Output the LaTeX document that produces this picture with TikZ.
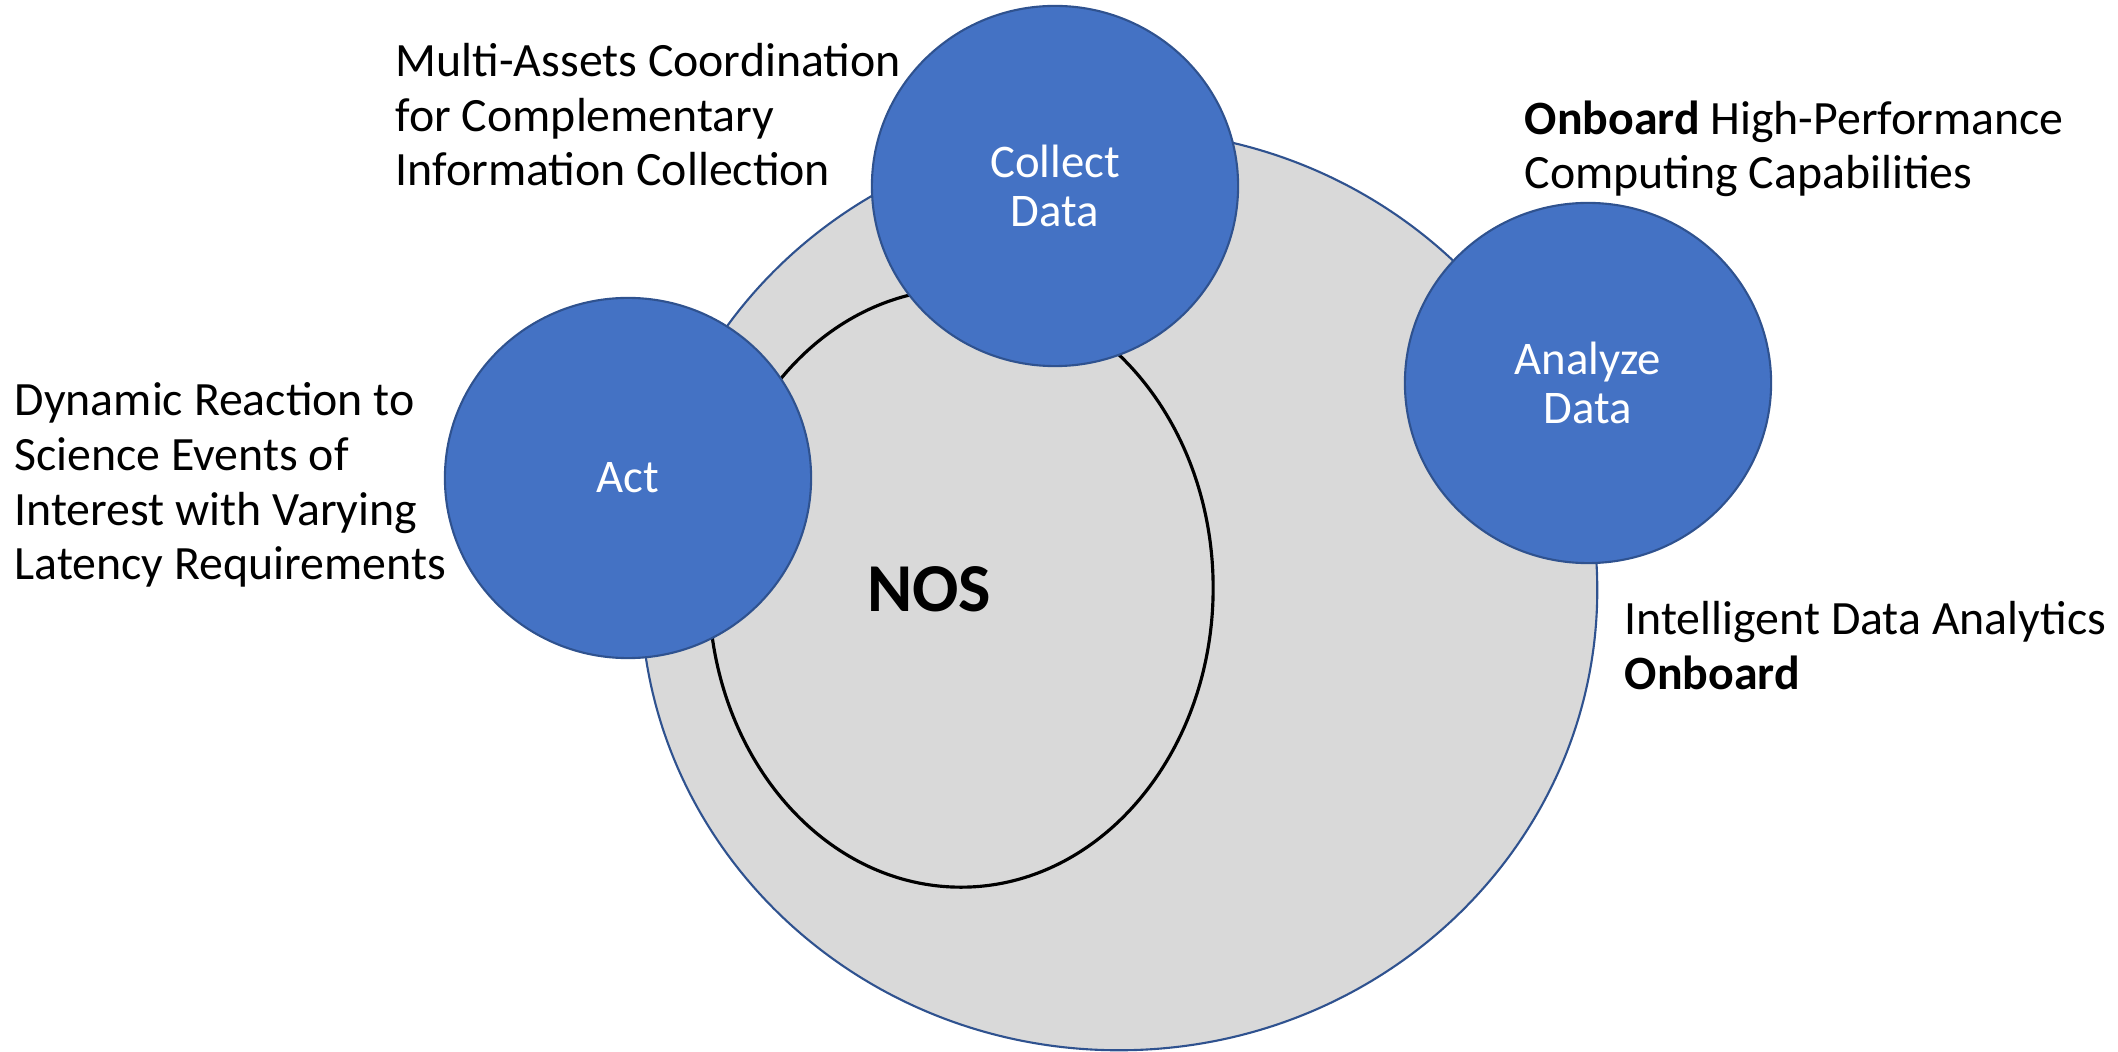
\documentclass[tikz,border=0pt]{standalone}
\usepackage{fontspec}
\setmainfont{Carlito}
\usetikzlibrary{shapes.geometric}
\definecolor{nosblue}{HTML}{4472C4}
\definecolor{nosedge}{HTML}{2F528F}
\definecolor{nosgrey}{HTML}{D9D9D9}

\begin{document}
\begin{tikzpicture}[x=0.01cm,y=-0.01cm,
  task/.style={ellipse,fill=nosblue,draw=nosedge,line width=0.6pt,minimum width=3.66cm,minimum height=3.6cm,inner sep=0pt,text=white,align=center,font=\fontsize{13.3}{13.9}\selectfont},
  note/.style={align=left,anchor=base west,inner sep=0pt,font=\fontsize{13.6}{15.6}\selectfont}]
\useasboundingbox (0,0) rectangle (2118,1052);

% outer ring and NOS core
\node[ellipse,fill=nosgrey,draw=nosedge,line width=0.6pt,minimum width=9.56cm,minimum height=9.2cm] (ring) at (1119,590) {};
\node[ellipse,fill=nosgrey,draw=black,line width=0.9pt,minimum width=5.04cm,minimum height=5.98cm] (core) at (961,588) {};
\node[font=\fontsize{19.5}{19.5}\selectfont\bfseries] (nos) at (929,589) {NOS};

% the three blue circles
\node[task] (collect) at (1055,186) {Collect\\Data};
\node[task] (act) at (628,478) {Act};
\node[task] (analyze) at (1588,383) {Analyze\\Data};

% notes (anchored on the last line)
\node[note] (collectnote) at (395,186) {Multi-Assets Coordination\\for Complementary\\Information Collection};
\node[note] (actnote) at (14,580) {Dynamic Reaction to\\Science Events of\\Interest with Varying\\Latency Requirements};
\node[note] (hpcnote) at (1524,189) {\textbf{Onboard} High-Performance\\Computing Capabilities};
\node[note] (analyticsnote) at (1624,689) {Intelligent Data Analytics\\\textbf{Onboard}};

\end{tikzpicture}
\end{document}
